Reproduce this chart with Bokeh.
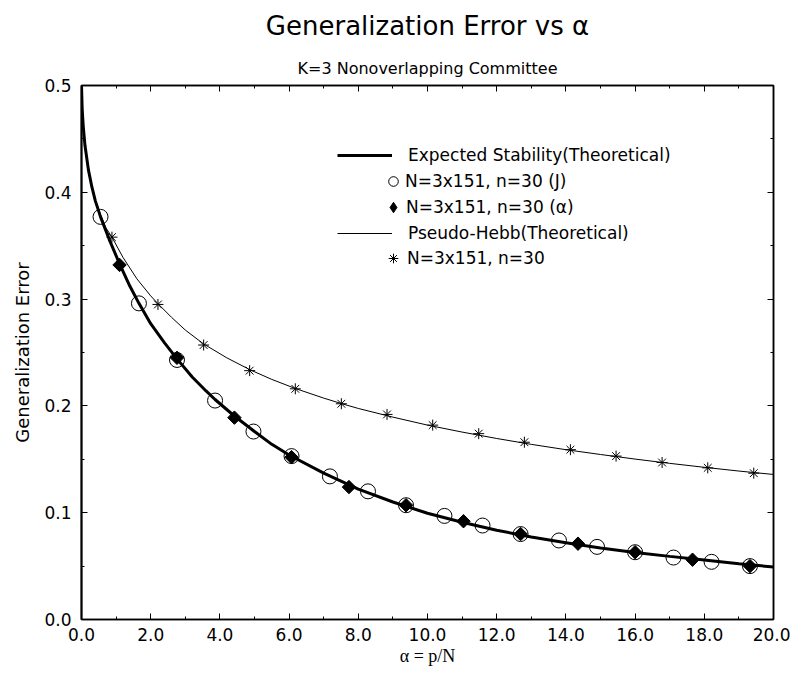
from bokeh.plotting import figure
from bokeh.models import (Range1d, LinearAxis, FixedTicker, PrintfTickFormatter,
                          Legend, LegendItem, Title)
from bokeh.embed import file_html
from bokeh.resources import INLINE

# ---------------- data ----------------
title_text = "Generalization Error vs \u03b1"
subtitle_text = "K=3 Nonoverlapping Committee"
x_label = "\u03b1 = p/N"
y_label = "Generalization Error"

x_ticks = [0, 2, 4, 6, 8, 10, 12, 14, 16, 18, 20]
x_minor = [1, 3, 5, 7, 9, 11, 13, 15, 17, 19]
y_ticks = [0.0, 0.1, 0.2, 0.3, 0.4, 0.5]
y_minor = [0.05, 0.15, 0.25, 0.35, 0.45]

legend_labels = ["Expected Stability(Theoretical)",
                 "N=3x151, n=30 (J)",
                 "N=3x151, n=30 (\u03b1)",
                 "Pseudo-Hebb(Theoretical)",
                 "N=3x151, n=30"]

# Expected stability (theoretical), thick line
stab_alpha = [0.0, 0.02, 0.05, 0.1, 0.2, 0.3, 0.4, 0.55, 0.8, 1.1, 1.4, 1.66, 2.0, 2.4,
              2.76, 3.2, 3.6, 3.86, 4.4, 5.0, 5.5, 6.0, 7.0, 8.0, 9.0, 10.0, 11.0, 12.0,
              13.0, 14.0, 15.0, 16.0, 17.0, 18.0, 19.0, 20.0]
stab_err = [0.500, 0.478, 0.462, 0.444, 0.421, 0.405, 0.392, 0.377, 0.356, 0.333, 0.312,
            0.296, 0.277, 0.259, 0.244, 0.227, 0.214, 0.206, 0.191, 0.176, 0.164, 0.154,
            0.137, 0.122, 0.110, 0.0995, 0.091, 0.0836, 0.0773, 0.0718, 0.0670, 0.0628,
            0.0591, 0.0558, 0.0522, 0.0492]

# Pseudo-Hebb (theoretical), thin line
hebb_alpha = [0.0, 0.02, 0.05, 0.1, 0.2, 0.3, 0.4, 0.55, 0.7, 0.88, 1.2, 1.6, 2.0, 2.21,
              2.6, 3.0, 3.53, 4.2, 4.86, 5.5, 6.18, 7.0, 7.51, 8.0, 9.0, 10.0, 11.0, 12.0,
              13.0, 14.0, 15.0, 16.0, 17.0, 18.0, 19.0, 20.0]
hebb_err = [0.500, 0.478, 0.462, 0.444, 0.421, 0.406, 0.393, 0.379, 0.367, 0.358, 0.339,
            0.319, 0.303, 0.2957, 0.283, 0.271, 0.258, 0.245, 0.234, 0.2248, 0.2163, 0.2073,
            0.2022, 0.1976, 0.1895, 0.182, 0.1755, 0.1695, 0.164, 0.159, 0.1545, 0.1502,
            0.1462, 0.1425, 0.139, 0.1358]

# N=3x151, n=30 (J)  -- open circles
j_alpha = [0.55, 1.66, 2.76, 3.86, 4.97, 6.07, 7.18, 8.28, 9.38, 10.49, 11.59, 12.69,
           13.80, 14.90, 16.00, 17.11, 18.21, 19.32]
j_err = [0.377, 0.296, 0.243, 0.205, 0.176, 0.153, 0.134, 0.120, 0.107, 0.097, 0.088,
         0.080, 0.074, 0.068, 0.063, 0.058, 0.054, 0.050]

# N=3x151, n=30 (alpha) -- filled diamonds
a_alpha = [1.10, 2.76, 4.42, 6.07, 7.73, 9.38, 11.04, 12.69, 14.35, 16.00, 17.66, 19.32]
a_err = [0.332, 0.245, 0.189, 0.152, 0.124, 0.107, 0.092, 0.080, 0.071, 0.063, 0.056, 0.050]

# N=3x151, n=30 (pseudo-Hebb simulation) -- asterisks
s_alpha = [0.88, 2.21, 3.53, 4.86, 6.18, 7.51, 8.83, 10.15, 11.48, 12.80, 14.13, 15.45,
           16.78, 18.10, 19.43]
s_err = [0.358, 0.295, 0.257, 0.233, 0.216, 0.202, 0.192, 0.182, 0.174, 0.166, 0.159,
         0.153, 0.147, 0.142, 0.137]

SANS = "DejaVu Sans"
SERIF = "Liberation Serif"

# ---------------- figure ----------------
p = figure(width=790, height=672, x_range=Range1d(0, 20), y_range=Range1d(0, 0.5),
           output_backend="svg", toolbar_location=None,
           min_border_left=81, min_border_right=17, min_border_top=81, min_border_bottom=53)
p.grid.visible = False
p.outline_line_color = "black"
p.outline_line_width = 1.5
p.background_fill_color = "white"
p.border_fill_color = "white"


def style_axis(ax, ticks, minor, show_labels, lw=1.5):
    ax.ticker = FixedTicker(ticks=ticks, minor_ticks=minor)
    ax.axis_line_color = "black"
    ax.axis_line_width = lw
    ax.major_tick_in = 6
    ax.major_tick_out = 0
    ax.minor_tick_in = 3
    ax.minor_tick_out = 0
    ax.major_tick_line_color = "black"
    ax.minor_tick_line_color = "black"
    if show_labels:
        ax.major_label_text_font = SANS
        ax.major_label_text_font_size = "17px"
        ax.major_label_text_color = "black"
    else:
        ax.major_label_text_font_size = "0px"
        ax.major_label_text_alpha = 0
        ax.major_label_standoff = 0


xa = p.xaxis[0]
ya = p.yaxis[0]
style_axis(xa, x_ticks, x_minor, True)
style_axis(ya, y_ticks, y_minor, True, lw=2)
xa.formatter = PrintfTickFormatter(format="%.1f")
ya.formatter = PrintfTickFormatter(format="%.1f")
xa.major_label_standoff = 8
ya.major_label_standoff = 10
xa.axis_label = x_label
xa.axis_label_text_font = SERIF
xa.axis_label_text_font_style = "normal"
xa.axis_label_text_font_size = "18px"
xa.axis_label_text_color = "black"
xa.axis_label_standoff = 2
ya.axis_label = y_label
ya.axis_label_text_font = SANS
ya.axis_label_text_font_style = "normal"
ya.axis_label_text_font_size = "18px"
ya.axis_label_text_color = "black"
ya.axis_label_standoff = 8

top = LinearAxis()
style_axis(top, x_ticks, x_minor, False)
p.add_layout(top, "above")
right = LinearAxis()
style_axis(right, y_ticks, y_minor, False)
p.add_layout(right, "right")

# ---------------- titles ----------------
p.add_layout(Title(text=subtitle_text, align="center", text_font=SANS,
                   text_font_size="16px", text_font_style="normal",
                   text_color="black", standoff=15), "above")
p.title.text = title_text
p.title.align = "center"
p.title.text_font = SANS
p.title.text_font_size = "26px"
p.title.text_font_style = "normal"
p.title.text_color = "black"
p.title.standoff = 17

# ---------------- glyphs ----------------
r_stab = p.line(stab_alpha, stab_err, line_width=3, line_color="black")
r_hebb = p.line(hebb_alpha, hebb_err, line_width=1, line_color="black")
r_j = p.scatter(j_alpha, j_err, marker="circle", size=15, fill_color="white", fill_alpha=0,
                line_color="black", line_width=1)
r_a = p.scatter(a_alpha, a_err, marker="square", angle=0.785398, size=9.5,
                fill_color="black", line_color="black", line_width=1)
r_s = p.scatter(s_alpha, s_err, marker="asterisk", size=11, line_color="black", line_width=1)
# legend key for the diamond series (the legend ignores marker rotation);
# hidden in the plot, drawn only as the legend key
r_a_key = p.scatter(a_alpha, a_err, marker="diamond", size=12, fill_color="black",
                    line_color="black", line_width=1, visible=False)

# ---------------- legend (one row per Legend) ----------------
rows = [(r_stab, legend_labels[0], 256, 452, 55, 24, 16),
        (r_j, legend_labels[1], 300, 426, 24, 24, 0),
        (r_a_key, legend_labels[2], 299, 399, 26, 26, 0),
        (r_hebb, legend_labels[3], 256, 374, 55, 24, 16),
        (r_s, legend_labels[4], 300, 349, 24, 24, 2)]
for rend, lab, lx, ly, gw, gh, so in rows:
    lg = Legend(items=[LegendItem(label=lab, renderers=[rend])], location=(lx, ly),
                glyph_width=gw, glyph_height=gh, label_height=gh, label_standoff=so,
                padding=0, margin=0, spacing=0, border_line_alpha=0,
                background_fill_alpha=0, label_text_font=SANS,
                label_text_font_size="17px", label_text_color="black")
    p.add_layout(lg, "center")

open("out.html", "w").write(file_html(p, INLINE))
